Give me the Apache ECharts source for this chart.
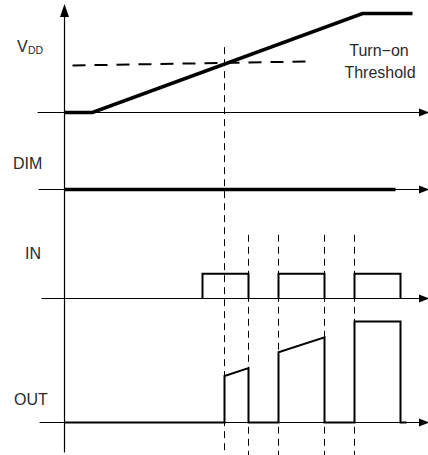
<!DOCTYPE html>
<html><head><meta charset="utf-8">
<script src="https://cdn.jsdelivr.net/npm/echarts@6/dist/echarts.min.js"></script>
<style>html,body{margin:0;padding:0;background:#fff}#c{width:428px;height:455px}</style>
</head><body><div id="c"></div>
<script>
// ---- data (time in arbitrary units, levels normalised to VDD max = 1) ----
const vddTime = [0, 2.8, 29.8, 34.8];
const vddLevel = [0, 0, 1, 1];
const thresholdTime = [0.8, 24.2];
const thresholdLevel = [0.475, 0.515];
const dimTime = [0, 33.1];
const dimLevel = [0, 0];
const inRise = [13.8, 21.4, 29.0];
const inFall = [18.4, 26.0, 33.6];
const outStart = [16.0, 21.4, 29.0];
const outEnd = [18.4, 26.0, 33.6];
const outLevelStart = [0.47, 0.71, 1.02];
const outLevelEnd = [0.55, 0.86, 1.02];
const outStopTime = 34.2;
const markerTimes = [16.0, 18.4, 21.4, 26.0, 29.0];
const markerTop = [91.7, 49.2, 49.2, 49.2, 49.2];
const markerBottom = -0.7;
const signalNames = ['V', 'DD', 'DIM', 'IN', 'OUT'];
const thresholdLabel = ['Turn\u2212on', 'Threshold'];

// ---- build series data ----
const vddData = vddTime.map((t, i) => [t, vddLevel[i]]);
const thrData = thresholdTime.map((t, i) => [t, thresholdLevel[i]]);
const dimData = dimTime.map((t, i) => [t, dimLevel[i]]);
const inData = [];
inRise.forEach((r, i) => {
  if (i) inData.push([r, '-']);
  inData.push([r, 0], [r, 1], [inFall[i], 1], [inFall[i], 0]);
});
const outData = [[0, 0]];
outStart.forEach((s, i) => {
  outData.push([s, 0], [s, outLevelStart[i]], [outEnd[i], outLevelEnd[i]], [outEnd[i], 0]);
});
outData.push([outStopTime, 0]);
const guideData = [];
markerTimes.forEach((t, i) => {
  if (i) guideData.push([t, '-']);
  guideData.push([t, markerTop[i]], [t, markerBottom]);
});

const PX = 10; // px per time unit
const AX0 = 64.5;
const RIGHT = 4;
function xAxisFor(idx, left, show) {
  return {
    type: 'value', gridIndex: idx, min: (left - AX0) / PX, max: (428 - RIGHT - AX0) / PX,
    axisLine: show ? { show: true, onZero: false, symbol: ['none', 'triangle'], symbolSize: [8, 10],
      lineStyle: { color: '#000', width: 1.2 } } : { show: false },
    axisTick: { show: false }, axisLabel: { show: false }, splitLine: { show: false }
  };
}
function yAxisFor(idx, min, max, show) {
  return {
    type: 'value', gridIndex: idx, min: min, max: max,
    axisLine: show ? { show: true, onZero: false, symbol: ['none', 'triangle'], symbolSize: [9, 13],
      lineStyle: { color: '#000', width: 1.2 } } : { show: false },
    axisTick: { show: false }, axisLabel: { show: false }, splitLine: { show: false }
  };
}
const font = '"Liberation Sans", Arial, sans-serif';
const txtColor = '#2a2a2a';
function txt(str, x, y, size, align) {
  return { type: 'text', x: x, y: y, silent: true,
    style: { text: str, font: size + 'px ' + font, fill: txtColor, textAlign: align || 'left', textVerticalAlign: 'middle' } };
}
function lineSeries(name, data, xi, width, dash, color) {
  return { name: name, type: 'line', xAxisIndex: xi, yAxisIndex: xi, data: data, symbol: 'none',
    clip: false, connectNulls: false, animation: false,
    lineStyle: { color: color || '#000', width: width, type: dash || 'solid', cap: 'butt', join: 'miter' } };
}

const chart = echarts.init(document.getElementById('c'), null, { renderer: 'svg' });
chart.setOption({
  backgroundColor: '#fff',
  animation: false,
  grid: [
    { left: AX0, right: RIGHT, top: 10.5, bottom: 3 },   // frame / guides
    { left: 38, right: RIGHT, top: 13.5, height: 99 },   // VDD
    { left: 39, right: RIGHT, top: 140.5, height: 49 },  // DIM
    { left: 42, right: RIGHT, top: 273.8, height: 24.7 },// IN
    { left: 40, right: RIGHT, top: 323.5, height: 99 }   // OUT
  ],
  xAxis: [xAxisFor(0, AX0, false), xAxisFor(1, 38, true), xAxisFor(2, 39, true), xAxisFor(3, 42, true), xAxisFor(4, 40, true)],
  yAxis: [yAxisFor(0, 0, 100, true), yAxisFor(1, 0, 1, false), yAxisFor(2, 0, 1, false), yAxisFor(3, 0, 1, false), yAxisFor(4, 0, 1, false)],
  series: [
    lineSeries('guides', guideData, 0, 1, [7, 5], '#000'),
    lineSeries('VDD', vddData, 1, 3.5),
    lineSeries('Turn-on Threshold', thrData, 1, 2, [13, 9]),
    lineSeries('DIM', dimData, 2, 3.5),
    lineSeries('IN', inData, 3, 2),
    lineSeries('OUT', outData, 4, 2)
  ],
  graphic: [
    txt(signalNames[0], 17, 46, 16),
    txt(signalNames[1], 28, 49.5, 10.5),
    txt(signalNames[2], 13, 163, 16),
    txt(signalNames[3], 25, 253, 16),
    txt(signalNames[4], 14, 399, 16),
    txt(thresholdLabel[0], 379, 50.5, 16, 'center'),
    txt(thresholdLabel[1], 380, 72, 16, 'center')
  ]
});
</script></body></html>
